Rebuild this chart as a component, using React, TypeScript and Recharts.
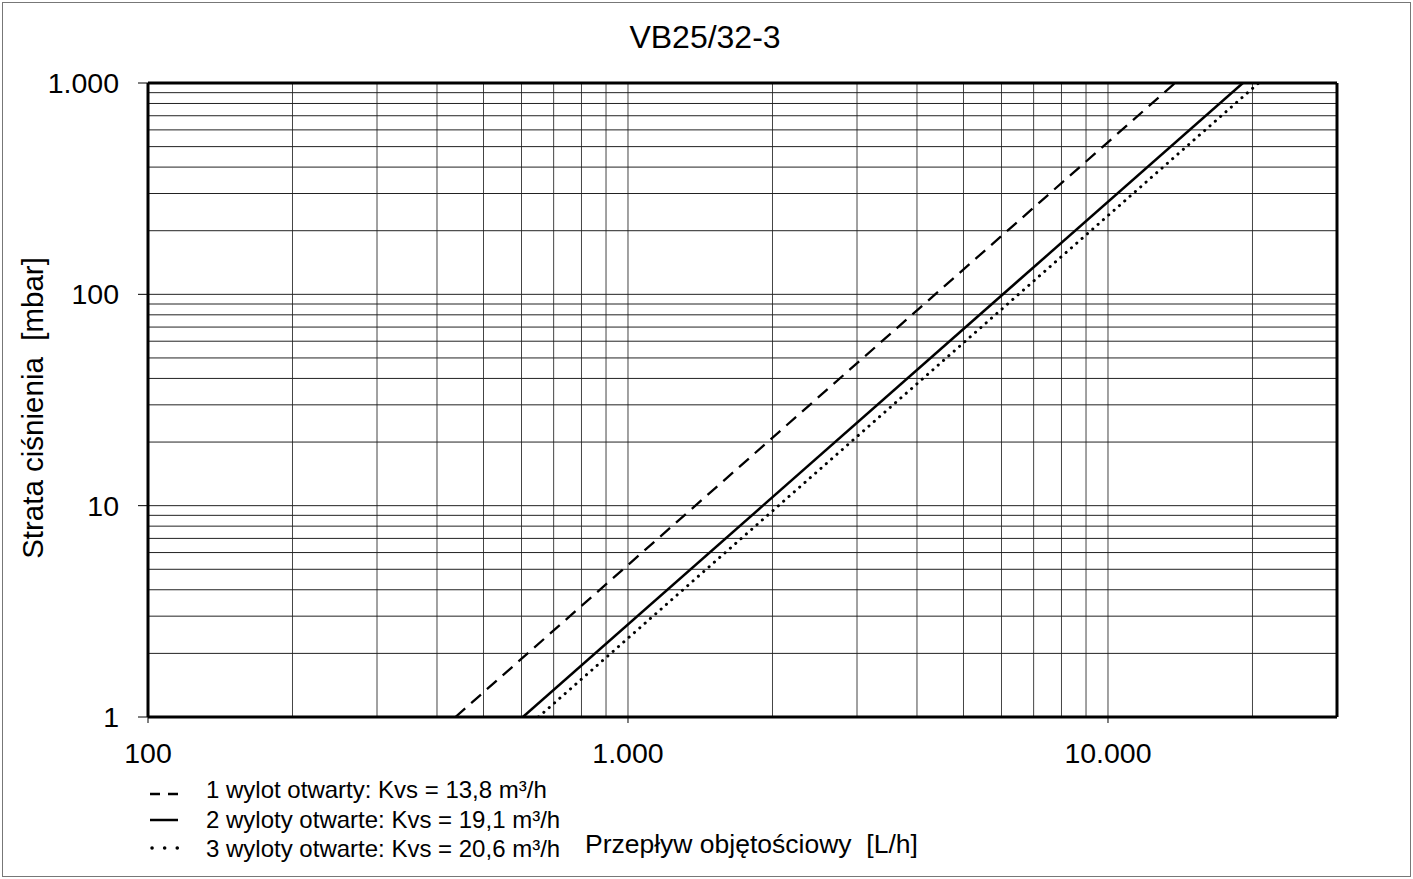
import React from "react";
import { LineChart, Line, XAxis, YAxis, ReferenceLine } from "recharts";

const W = 1413;
const H = 879;
const FONT = "'Liberation Sans', Arial, sans-serif";

// axis ticks (labelled)
const xTicks = [100, 1000, 10000];
const yTicks = [1, 10, 100, 1000];
const xDomain = [100, 30000];
const yDomain = [1, 1000];

// minor grid lines
const xGrid = [200, 300, 400, 500, 600, 700, 800, 900, 1000, 2000, 3000, 4000, 5000, 6000, 7000, 8000, 9000, 10000, 20000];
const yGrid = [2, 3, 4, 5, 6, 7, 8, 9, 10, 20, 30, 40, 50, 60, 70, 80, 90, 100, 200, 300, 400, 500, 600, 700, 800, 900];

// series endpoints (flow L/h, pressure loss mbar)
const oneOutlet = [
  { q: 437, dp: 1 },
  { q: 13800, dp: 1000 },
];
const twoOutlets = [
  { q: 604, dp: 1 },
  { q: 19100, dp: 1000 },
];
const threeOutlets = [
  { q: 651, dp: 1 },
  { q: 20600, dp: 1000 },
];

const legendItems = [
  { label: "1 wylot otwarty: Kvs = 13,8 m³/h", dash: "10 8", width: 2.5, cap: "butt", x1: 150, x2: 178, ly: 794, ty: 798 },
  { label: "2 wyloty otwarte: Kvs = 19,1 m³/h", dash: undefined, width: 2.5, cap: "butt", x1: 150, x2: 178, ly: 820, ty: 828 },
  { label: "3 wyloty otwarte: Kvs = 20,6 m³/h", dash: "0.1 12.5", width: 3.5, cap: "round", x1: 152, x2: 178, ly: 848, ty: 857 },
];

const fmt = (v: number) => String(v).replace(/\B(?=(\d{3})+(?!\d))/g, ".");

export default function App() {
  return (
    <div style={{ position: "absolute", left: 0, top: 0, width: W, height: H, background: "#fff", fontFamily: FONT }}>
      <div
        style={{
          position: "absolute",
          left: 2,
          top: 2,
          width: W - 6,
          height: H - 6,
          border: "1px solid #777",
        }}
      />
      <div style={{ position: "absolute", left: 0, top: 0 }}>
        <LineChart width={W} height={H} margin={{ top: 83, right: 76, left: 48, bottom: 102 }}>
          <XAxis
            dataKey="q"
            type="number"
            scale="log"
            domain={xDomain}
            ticks={xTicks}
            allowDataOverflow
            tickFormatter={fmt}
            axisLine={false}
            tickLine={{ stroke: "#000" }}
            tickSize={6}
            tickMargin={20}
            height={60}
            tick={{ fill: "#000", fontSize: 28.5, fontFamily: FONT }}
          />
          <YAxis
            dataKey="dp"
            type="number"
            scale="log"
            domain={yDomain}
            ticks={yTicks}
            allowDataOverflow
            tickFormatter={fmt}
            axisLine={false}
            tickLine={{ stroke: "#000" }}
            tickSize={10}
            tickMargin={19}
            width={100}
            tick={{ fill: "#000", fontSize: 28.5, fontFamily: FONT }}
          />
          {xGrid.map((v) => (
            <ReferenceLine key={"gx" + v} x={v} stroke="#444" strokeWidth={1} />
          ))}
          {yGrid.map((v) => (
            <ReferenceLine key={"gy" + v} y={v} stroke="#222" strokeWidth={1} />
          ))}
          <Line
            data={oneOutlet}
            dataKey="dp"
            stroke="#000"
            strokeWidth={2.3}
            strokeDasharray="13 8"
            dot={false}
            activeDot={false}
            isAnimationActive={false}
          />
          <Line
            data={twoOutlets}
            dataKey="dp"
            stroke="#000"
            strokeWidth={2.5}
            dot={false}
            activeDot={false}
            isAnimationActive={false}
          />
          <Line
            data={threeOutlets}
            dataKey="dp"
            stroke="#000"
            strokeWidth={3}
            strokeDasharray="0.1 7"
            strokeLinecap="round"
            dot={false}
            activeDot={false}
            isAnimationActive={false}
          />
          <ReferenceLine x={xDomain[0]} stroke="#000" strokeWidth={3} />
          <ReferenceLine x={xDomain[1]} stroke="#000" strokeWidth={3} />
          <ReferenceLine y={yDomain[0]} stroke="#000" strokeWidth={3} />
          <ReferenceLine y={yDomain[1]} stroke="#000" strokeWidth={3} />
        </LineChart>
      </div>
      <svg width={W} height={H} style={{ position: "absolute", left: 0, top: 0, pointerEvents: "none" }}>
        <text x={705} y={48} textAnchor="middle" fontSize={32} fontFamily={FONT} fill="#000">
          VB25/32-3
        </text>
        <text
          x={0}
          y={0}
          transform="translate(43 408) rotate(-90)"
          textAnchor="middle"
          fontSize={29.5}
          fontFamily={FONT}
          fill="#000"
          style={{ whiteSpace: "pre" }}
        >
          Strata ciśnienia  [mbar]
        </text>
        <text x={585} y={853} fontSize={26.5} fontFamily={FONT} fill="#000" style={{ whiteSpace: "pre" }}>
          Przepływ objętościowy  [L/h]
        </text>
        {legendItems.map((it) => (
          <g key={it.label}>
            <line
              x1={it.x1}
              x2={it.x2}
              y1={it.ly}
              y2={it.ly}
              stroke="#000"
              strokeWidth={it.width}
              strokeDasharray={it.dash}
              strokeLinecap={it.cap as any}
            />
            <text x={206} y={it.ty} fontSize={24} fontFamily={FONT} fill="#000">
              {it.label}
            </text>
          </g>
        ))}
      </svg>
    </div>
  );
}
